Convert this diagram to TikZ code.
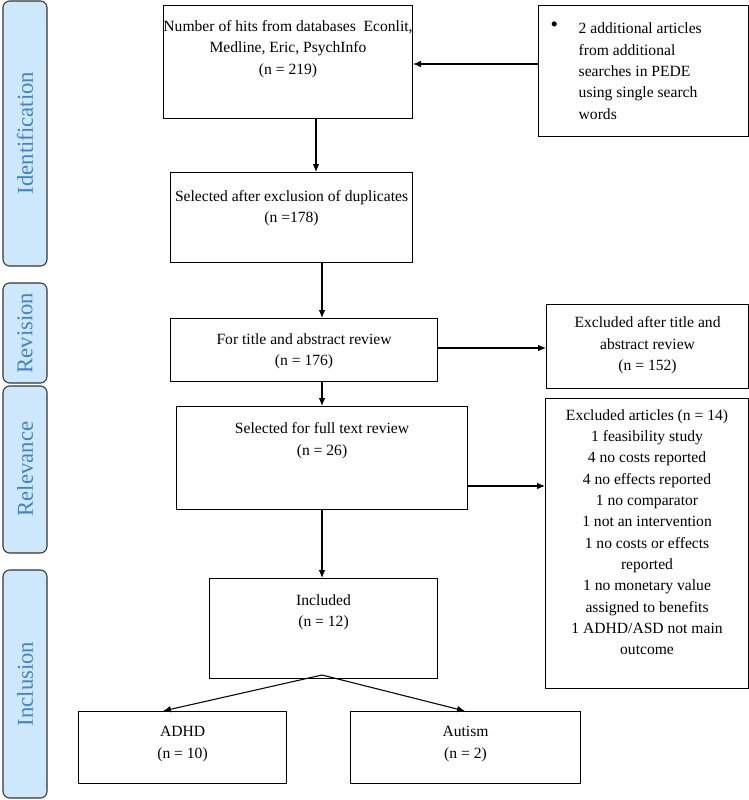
\documentclass[tikz,border=0pt]{standalone}
\usepackage{fontspec}
\setmainfont{Liberation Serif}
\usepackage{xcolor}
\usetikzlibrary{positioning, calc, arrows.meta}
\definecolor{sidefill}{RGB}{204,232,250}
\definecolor{sidetext}{RGB}{70,130,190}
\tikzset{
  box/.style={draw, line width=0.8pt, inner sep=0pt, anchor=north west},
  txt/.style={anchor=north, align=center, font=\fontsize{11.7}{16}\selectfont},
  side/.style={draw=black!80, fill=sidefill, rounded corners=5pt, line width=0.8pt},
  sidelabel/.style={rotate=90, text=sidetext, font=\fontsize{17}{20}\selectfont},
  arr/.style={-{Latex[length=6pt,width=5pt]}, line width=0.8pt}
}
\begin{document}
\begin{tikzpicture}[x=0.75pt,y=-0.75pt]
\useasboundingbox (0,0) rectangle (749,800);

%side bars
\draw[side] (3,1) rectangle (47,266);
\node[sidelabel] (lident) at (25,133) {Identification};
\draw[side] (3,283) rectangle (47,383);
\node[sidelabel] (lrev) at (25,333) {Revision};
\draw[side] (3,386) rectangle (47,553);
\node[sidelabel] (lrel) at (25,469) {Relevance};
\draw[side] (3,570) rectangle (47,798);
\node[sidelabel] (lincl) at (25,684) {Inclusion};

%boxes
\node[box, minimum width=249*0.75pt, minimum height=113*0.75pt] (hits) at (163,5) {};
\node[txt] (thits) at (hits.north) [yshift=-8pt] {Number of hits from databases~ Econlit,\\Medline, Eric, PsychInfo\\(n = 219)};
\node[box, minimum width=210*0.75pt, minimum height=131*0.75pt] (extra) at (538,5) {};
\node[txt, anchor=north west, font=\fontsize{16}{16}\selectfont] (bul) at (extra.north west) [xshift=6pt, yshift=-9pt] {\textbullet};
\node[txt, anchor=north west, align=left] (textra) at (extra.north west) [xshift=27pt, yshift=-10pt] {2 additional articles\\from additional\\searches in PEDE\\using single search\\words};
\node[box, minimum width=242*0.75pt, minimum height=90*0.75pt] (sel) at (170,172) {};
\node[txt] (tsel) at (sel.north) [yshift=-10pt] {Selected after exclusion of duplicates\\(n =178)};
\node[box, minimum width=267*0.75pt, minimum height=63*0.75pt] (title) at (170,318) {};
\node[txt] (ttitle) at (title.north) [yshift=-8pt] {For title and abstract review\\(n = 176)};
\node[box, minimum width=202*0.75pt, minimum height=84*0.75pt] (exta) at (546,304) {};
\node[txt] (texta) at (exta.north) [yshift=-6pt] {Excluded after title and\\abstract review\\(n = 152)};
\node[box, minimum width=291*0.75pt, minimum height=103*0.75pt] (full) at (176,406) {};
\node[txt] (tfull) at (full.north) [yshift=-9pt] {Selected for full text review\\(n = 26)};
\node[box, minimum width=203*0.75pt, minimum height=290*0.75pt] (extb) at (545,398) {};
\node[txt] (textb) at (extb.north) [yshift=-5pt] {Excluded articles (n = 14)\\1 feasibility study\\4 no costs reported\\4 no effects reported\\1 no comparator\\1 not an intervention\\1 no costs or effects\\reported\\1 no monetary value\\assigned to benefits\\1 ADHD/ASD not main\\outcome};
\node[box, minimum width=228*0.75pt, minimum height=100*0.75pt] (incl) at (209,578) {};
\node[txt] (tincl) at (incl.north) [yshift=-9pt] {Included\\(n = 12)};
\node[box, minimum width=208*0.75pt, minimum height=72*0.75pt] (adhd) at (78,711) {};
\node[txt] (tadhd) at (adhd.north) [yshift=-8pt] {ADHD\\(n = 10)};
\node[box, minimum width=230*0.75pt, minimum height=72*0.75pt] (aut) at (350,711) {};
\node[txt] (taut) at (aut.north) [yshift=-8pt] {Autism\\(n = 2)};

%arrows
\draw[arr] (hits.south -| 316,0) -- (sel.north -| 316,0);
\draw[arr] (extra.west |- 0,64) -- (hits.east |- 0,64);
\draw[arr] (sel.south -| 322,0) -- (title.north -| 322,0);
\draw[arr] (title.east |- 0,348) -- (exta.west |- 0,348);
\draw[arr] (title.south -| 322,0) -- (full.north -| 322,0);
\draw[arr] (full.east |- 0,486) -- (extb.west |- 0,486);
\draw[arr] (full.south -| 322,0) -- (incl.north -| 322,0);
\coordinate (split) at (322,675);
\draw[arr] (split) -- (adhd.north -| 163,0);
\draw[arr] (split) -- (aut.north -| 465,0);
\end{tikzpicture}
\end{document}
